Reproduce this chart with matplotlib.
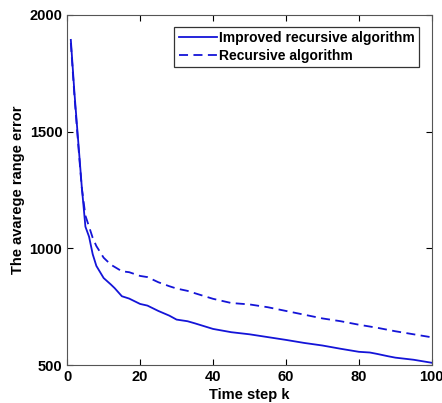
import matplotlib
matplotlib.use("Agg")
import matplotlib.pyplot as plt

plt.rcParams['font.family'] = ['Liberation Sans', 'DejaVu Sans']

k_improved = [1, 2, 3, 4, 5, 6, 7, 8, 10, 12, 13, 15, 17, 20, 22, 25, 28, 30, 33, 35, 40,
              45, 50, 55, 60, 65, 70, 75, 80, 83, 85, 88, 90, 95, 100]
err_improved = [1893, 1664, 1464, 1264, 1093, 1050, 975, 925, 873, 845, 830, 795, 785, 762,
                755, 732, 712, 695, 688, 679, 655, 641, 632, 620, 608, 595, 584, 570, 557,
                554, 548, 538, 532, 523, 510]

k_recursive = [1, 2, 3, 4, 5, 6, 7, 8, 10, 12, 15, 17, 20, 22, 25, 28, 30, 33, 35, 40, 45,
               50, 55, 60, 65, 70, 75, 80, 85, 90, 95, 100]
err_recursive = [1880, 1650, 1450, 1260, 1140, 1093, 1045, 1010, 960, 930, 902, 898, 882,
                 877, 855, 838, 828, 818, 808, 784, 766, 760, 748, 732, 716, 700, 688, 673,
                 660, 645, 632, 619]

fig = plt.figure(figsize=(4.42, 4.03), dpi=100)
ax = fig.add_axes([0.152, 0.094, 0.825, 0.869])

color = '#1414d8'
ax.plot(k_improved, err_improved, '-', color=color, lw=1.3, label='Improved recursive algorithm')
ax.plot(k_recursive, err_recursive, '--', color=color, lw=1.3, dashes=(5, 3),
        label='Recursive algorithm')

ax.set_xlim(0, 100)
ax.set_ylim(500, 2000)
ax.set_xticks([0, 20, 40, 60, 80, 100])
ax.set_yticks([500, 1000, 1500, 2000])
ax.tick_params(direction='in', top=True, right=True, length=4, labelsize=10.5)
for lab in ax.get_xticklabels() + ax.get_yticklabels():
    lab.set_fontweight('bold')
for s in ax.spines.values():
    s.set_color('#555555')
    s.set_linewidth(0.8)

ax.set_xlabel('Time step k', fontsize=10.5, fontweight='bold', labelpad=3)
ax.set_ylabel('The avarege range error', fontsize=10.5, fontweight='bold', labelpad=3)

leg = ax.legend(loc='upper right', fontsize=10, frameon=True, fancybox=False,
                edgecolor='black', handlelength=2.8, handletextpad=0.1,
                borderpad=0.3, labelspacing=0.3, borderaxespad=0,
                bbox_to_anchor=(0.964, 0.966))
leg.get_frame().set_linewidth(0.9)
for t in leg.get_texts():
    t.set_fontweight('bold')

fig.savefig('out.png', dpi=100)
